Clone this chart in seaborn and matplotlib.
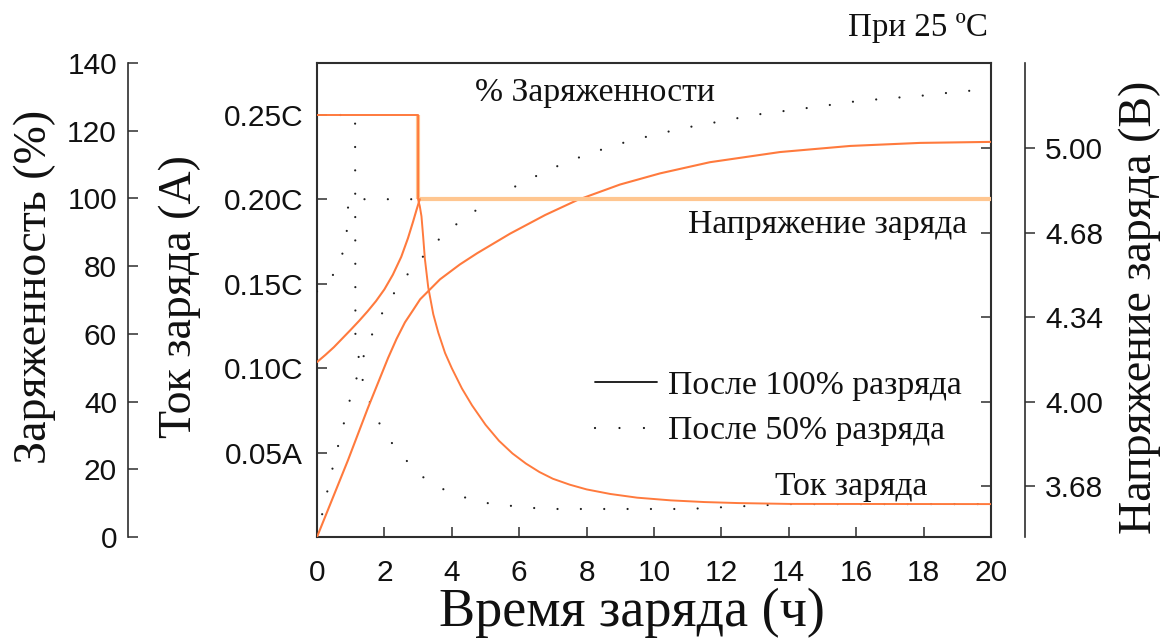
import numpy as np
import pandas as pd
import matplotlib
matplotlib.use("Agg")
import matplotlib.pyplot as plt
from matplotlib.lines import Line2D
import seaborn as sns

# ---------------- data ----------------
# Charge current after 100% discharge (fraction of C)
cur100_t = [0, 3.0, 3.0, 3.05, 3.1, 3.15, 3.2, 3.3, 3.45, 3.6, 3.8, 4.0, 4.3, 4.6, 5.0, 5.4, 5.8,
            6.2, 6.6, 7.0, 7.5, 8.0, 8.7, 9.5, 10.5, 11.5, 12.5, 14.0, 20]
cur100_v = [0.25, 0.25, 0.20, 0.196, 0.19, 0.178, 0.165, 0.148, 0.132, 0.121, 0.109, 0.100, 0.088,
            0.078, 0.0665, 0.057, 0.0495, 0.0435, 0.0385, 0.0345, 0.031, 0.0282, 0.0255, 0.0233,
            0.0217, 0.0207, 0.0201, 0.0196, 0.0195]

# Charge current after 50% discharge
cur50_t = [0, 1.13, 1.14, 1.25, 1.36, 1.54, 1.78, 2.1, 2.52, 2.91, 3.38, 3.98, 4.54, 5.19, 5.79,
           6.41, 7.06, 11.0, 12.9, 14.0, 20]
cur50_v = [0.25, 0.25, 0.118, 0.105, 0.0924, 0.0812, 0.0699, 0.0586, 0.0486, 0.0391, 0.032, 0.026,
           0.0225, 0.0195, 0.0184, 0.0172, 0.0166, 0.0166, 0.0185, 0.0195, 0.0195]

# Charge voltage (V)
volt100_t = [0, 0.25, 0.5, 0.75, 1.0, 1.25, 1.5, 1.75, 2.0, 2.25, 2.5, 2.7, 2.85, 2.95, 3.05, 20]
volt100_v = [4.164, 4.192, 4.222, 4.256, 4.29, 4.325, 4.362, 4.402, 4.448, 4.505, 4.575, 4.648,
             4.712, 4.757, 4.80, 4.80]
volt50_t = [0, 0.36, 0.65, 0.86, 0.9, 0.93, 1.0, 20]
volt50_v = [4.44, 4.477, 4.547, 4.629, 4.711, 4.793, 4.80, 4.80]

# State of charge (%)
soc100_t = [0, 0.92, 1.51, 2.11, 2.36, 2.61, 2.85, 3.06, 3.65, 4.24, 4.75, 5.73, 6.77, 7.72, 8.99,
            10.18, 11.66, 13.74, 15.82, 17.89, 20]
soc100_v = [0, 22.7, 38.1, 52.9, 58.5, 63.4, 67.0, 70.2, 76.1, 80.5, 83.8, 89.6, 95.1, 99.5, 104.1,
            107.4, 110.7, 113.7, 115.5, 116.4, 116.7]
soc50_t = [0, 0.5, 1.0, 1.5, 2.0, 2.5, 3.0, 3.5, 4.0, 5.0, 6.0, 7.0, 8.0, 9.0, 10.0, 11.0, 12.0,
           13.0, 14.0, 15.0, 16.0, 17.0, 18.0, 19.0, 20.0]
soc50_v = [0, 22.0, 41.5, 57.0, 67.5, 75.4, 81.2, 86.8, 91.4, 98.5, 104.2, 109.0, 113.0, 116.2,
           118.8, 121.0, 122.8, 124.7, 126.0, 127.3, 128.7, 129.6, 130.4, 131.5, 132.3]

# Ticks
x_ticks = [0, 2, 4, 6, 8, 10, 12, 14, 16, 18, 20]
cur_ticks = [0.05, 0.10, 0.15, 0.20, 0.25]
cur_labels = ["0.05A", "0.10C", "0.15C", "0.20C", "0.25C"]
soc_ticks = [0, 20, 40, 60, 80, 100, 120, 140]
volt_ticks = [3.68, 4.01, 4.34, 4.67, 5.00]
volt_labels = ["3.68", "4.00", "4.34", "4.68", "5.00"]

legend_labels = ["После 100% разряда", "После 50% разряда"]

# ---------------- style ----------------
sns.set_style("ticks")
plt.rcParams["font.family"] = ["Liberation Sans", "DejaVu Sans"]
SERIF = ["Liberation Serif", "DejaVu Serif"]
ORANGE = "#FF7A3D"
PEACH = "#FFC690"
DOT = "#1e1e1e"
SPINE = "#2e2e2e"
dotted = (0, (0.01, 10.5))

fig = plt.figure(figsize=(11.65, 6.39), dpi=100)
L, R, B, T = 317 / 1165, 991 / 1165, 1 - 537 / 639, 1 - 63 / 639
ax = fig.add_axes([L, B, R - L, T - B])
ax_p = ax.twinx()
ax_v = ax.twinx()
ax_vi = ax.twinx()

# limits
ax.set_xlim(0, 20)
ax.set_ylim(0, 0.25 * 474 / 422)
ax_p.set_ylim(0, 140)
v_per_px = 1.32 / 338
ax_v.set_ylim(5.00 - 389 * v_per_px, 5.00 + 85 * v_per_px)
ax_vi.set_ylim(ax_v.get_ylim())

# ---- current (main axes)
sns.lineplot(x=cur50_t, y=cur50_v, ax=ax, estimator=None, sort=False, color=DOT,
             lw=1.6, linestyle=dotted, dash_capstyle="round", zorder=2)
sns.lineplot(x=cur100_t[1:3], y=cur100_v[1:3], ax=ax, estimator=None, sort=False, color=PEACH,
             lw=3.0, zorder=3, solid_capstyle="butt")
sns.lineplot(x=cur100_t, y=cur100_v, ax=ax, estimator=None, sort=False, color=ORANGE,
             lw=1.4, zorder=4)

# ---- state of charge
sns.lineplot(x=soc50_t, y=soc50_v, ax=ax_p, estimator=None, sort=False, color=DOT,
             lw=1.6, linestyle=dotted, dash_capstyle="round", zorder=2)
sns.lineplot(x=soc100_t, y=soc100_v, ax=ax_p, estimator=None, sort=False, color=ORANGE,
             lw=1.5, zorder=3)

# ---- voltage
sns.lineplot(x=volt50_t, y=volt50_v, ax=ax_v, estimator=None, sort=False, color=DOT,
             lw=1.6, linestyle=dotted, dash_capstyle="round", zorder=2)
vdf = pd.DataFrame({"t": volt100_t, "v": volt100_v})
rise = vdf[vdf.t <= 3.05]
flat = vdf[vdf.t >= 3.05]
sns.lineplot(data=flat, x="t", y="v", ax=ax_v, estimator=None, sort=False, color=PEACH,
             lw=3.0, zorder=3, solid_capstyle="butt")
sns.lineplot(data=rise, x="t", y="v", ax=ax_v, estimator=None, sort=False, color=ORANGE,
             lw=1.5, zorder=4)

for a in (ax, ax_p, ax_v, ax_vi):
    a.set_xlabel("")
    a.set_ylabel("")

# ---------------- axes cosmetics ----------------
for s in ax.spines.values():
    s.set_color(SPINE)
    s.set_linewidth(1.5)
ax.set_xticks(x_ticks)
ax.set_xticklabels([str(v) for v in x_ticks])
ax.set_yticks(cur_ticks)
ax.set_yticklabels(cur_labels)
ax.tick_params(axis="x", direction="in", length=7.5, width=1.1, color=SPINE,
               labelsize=21.5, pad=16, top=False, labelcolor="#111111")
ax.tick_params(axis="y", direction="in", length=7.5, width=1.1, color=SPINE,
               labelsize=21.5, pad=10, right=False, labelcolor="#111111")

# percent axis (outer left)
for k, s in ax_p.spines.items():
    s.set_visible(k == "left")
ax_p.spines["left"].set_position(("axes", (128 - 317) / 674))
ax_p.spines["left"].set_color(SPINE)
ax_p.spines["left"].set_linewidth(1.2)
ax_p.yaxis.set_ticks_position("left")
ax_p.yaxis.set_label_position("left")
ax_p.set_yticks(soc_ticks)
ax_p.set_yticklabels([str(v) for v in soc_ticks])
ax_p.tick_params(axis="y", direction="in", length=7.5, width=1.1, color=SPINE,
                 labelsize=21.5, pad=8, labelcolor="#111111")

# voltage axis (outer right)
for k, s in ax_v.spines.items():
    s.set_visible(k == "right")
ax_v.spines["right"].set_position(("axes", (1025 - 317) / 674))
ax_v.spines["right"].set_color(SPINE)
ax_v.spines["right"].set_linewidth(1.2)
ax_v.set_yticks(volt_ticks)
ax_v.set_yticklabels(volt_labels)
ax_v.tick_params(axis="y", direction="out", length=7.5, width=1.1, color=SPINE,
                 labelsize=21.5, pad=7, labelcolor="#111111")

# inner right ticks on frame
for s in ax_vi.spines.values():
    s.set_visible(False)
ax_vi.set_yticks(volt_ticks)
ax_vi.set_yticklabels([])
ax_vi.tick_params(axis="y", direction="in", length=7.5, width=1.1, color=SPINE)

# ---------------- texts ----------------
tc = "#111111"
fig.text(35 / 1165, 1 - 287 / 639, "Заряженность (%)", rotation=90, ha="center", va="center",
         fontsize=33, family=SERIF, color=tc)
fig.text(180 / 1165, 1 - 297 / 639, "Ток заряда (A)", rotation=90, ha="center", va="center",
         fontsize=33, family=SERIF, color=tc)
fig.text(1140 / 1165, 1 - 307 / 639, "Напряжение заряда (В)", rotation=90, ha="center", va="center",
         fontsize=33, family=SERIF, color=tc)
fig.text(632 / 1165, 1 - 613 / 639, "Время заряда (ч)", ha="center", va="center",
         fontsize=39, family=SERIF, color=tc)
fig.text(848 / 1165, 1 - 28 / 639, "При 25 ºC", ha="left", va="center",
         fontsize=23.8, family=SERIF, color=tc)

ann_size = 24.3
ax.text((475 - 317) / 674, (537 - 93) / 474, "% Заряженности", transform=ax.transAxes,
        ha="left", va="center", fontsize=ann_size, family=SERIF, color=tc)
ax.text((688 - 317) / 674, (537 - 225) / 474, "Напряжение заряда", transform=ax.transAxes,
        ha="left", va="center", fontsize=ann_size, family=SERIF, color=tc)
ax.text((775 - 317) / 674, (537 - 487) / 474, "Ток заряда", transform=ax.transAxes,
        ha="left", va="center", fontsize=ann_size, family=SERIF, color=tc)

handles = [Line2D([], [], color="#111111", lw=1.3),
           Line2D([], [], color="#111111", lw=1.6, linestyle=(0, (0.01, 11)), dash_capstyle="round")]
leg = ax_v.legend(handles, legend_labels, loc="upper left",
                  bbox_to_anchor=((595 - 317) / 674, (537 - 370) / 474),
                  frameon=False, borderpad=0, borderaxespad=0, handlelength=1.85,
                  handletextpad=0.3, labelspacing=0.45,
                  prop={"family": SERIF, "size": ann_size})
for txt in leg.get_texts():
    txt.set_color(tc)

fig.savefig("out.png", dpi=100)
